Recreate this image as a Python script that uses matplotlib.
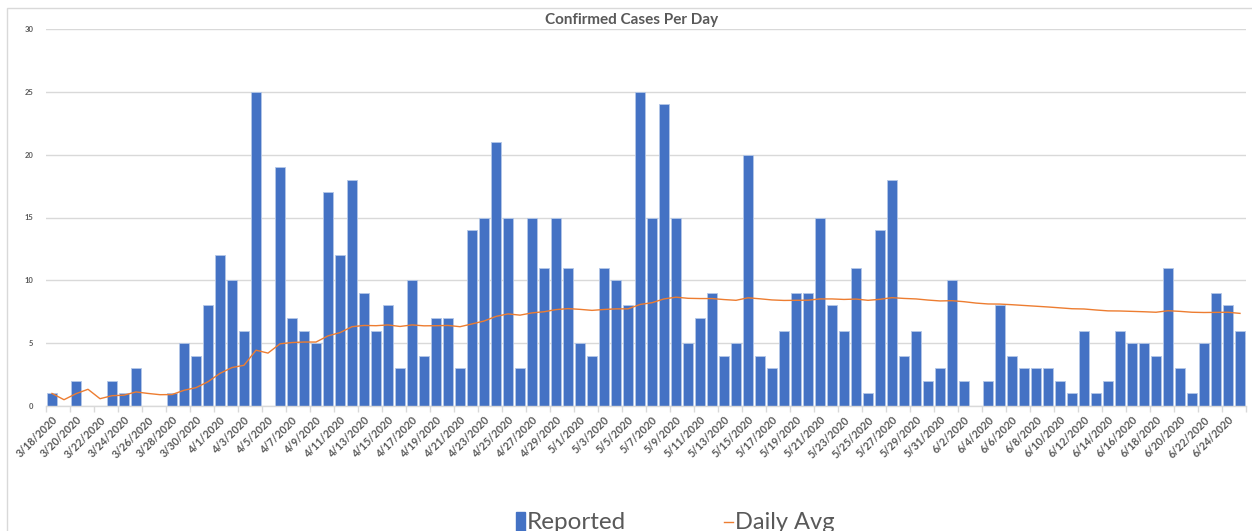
import matplotlib
matplotlib.use('Agg')
import matplotlib.pyplot as plt
from matplotlib.patches import Rectangle
from matplotlib.lines import Line2D
import pandas as pd

# data
start_date = '2020-03-18'
n_days = 100

reported = [1, 0, 2, 0, 0, 2, 1, 3, 0, 0, 1, 5, 4, 8,
            12, 10, 6, 25, 0, 19, 7, 6, 5, 17, 12, 18, 9, 6, 8, 3,
            10, 4, 7, 7, 3, 14, 15, 21, 15, 3, 15, 11, 15, 11,
            5, 4, 11, 10, 8, 25, 15, 24, 15, 5, 7, 9, 4, 5, 20, 4,
            3, 6, 9, 9, 15, 8, 6, 11, 1, 14, 18, 4, 6, 2, 3,
            10, 2, 0, 2, 8, 4, 3, 3, 3, 2, 1, 6, 1, 2, 6, 5, 5, 4,
            11, 3, 1, 5, 9, 8, 6]

daily_avg = [1.00, 0.50, 0.98, 1.33, 0.58, 0.82, 0.86, 1.12, 1.00, 0.90,
             0.91, 1.25, 1.46, 1.93, 2.60, 3.06, 3.24, 4.44, 4.21, 4.95,
             5.05, 5.09, 5.09, 5.58, 5.84, 6.31, 6.41, 6.39, 6.45, 6.33,
             6.45, 6.38, 6.39, 6.41, 6.31, 6.53, 6.76, 7.13, 7.33, 7.23,
             7.41, 7.50, 7.67, 7.75, 7.69, 7.61, 7.68, 7.73, 7.73, 8.08,
             8.22, 8.52, 8.66, 8.57, 8.55, 8.55, 8.47, 8.41, 8.61, 8.53,
             8.44, 8.40, 8.41, 8.42, 8.52, 8.52, 8.48, 8.51, 8.41, 8.49,
             8.62, 8.56, 8.52, 8.43, 8.36, 8.38, 8.30, 8.19, 8.12, 8.11,
             8.06, 8.00, 7.94, 7.88, 7.81, 7.74, 7.72, 7.64, 7.57, 7.56,
             7.53, 7.50, 7.46, 7.58, 7.53, 7.46, 7.44, 7.45, 7.46, 7.37]

dates = pd.date_range(start_date, periods=n_days)
labels = [f'{d.month}/{d.day}/{d.year}' for d in dates]

plt.rcParams['font.family'] = ['Lato', 'DejaVu Sans']
grey = '#595959'

fig = plt.figure(figsize=(12.52, 5.31), dpi=100)
ax = fig.add_axes([46 / 1252, 1 - 406 / 531, 1200 / 1252, 377 / 531])

x = list(range(n_days))
ax.bar(x, reported, width=0.78, color='#4472C4', edgecolor='#b4c7e7',
       linewidth=0.6, zorder=2)
ax.plot(x, daily_avg, color='#ED7D31', linewidth=1.0, zorder=3)

ax.set_xlim(-0.5, n_days - 0.5)
ax.set_ylim(0, 30)
ax.set_yticks(range(0, 31, 5))
ax.grid(axis='y', color='#d9d9d9', linewidth=1.0, zorder=0)

ax.set_xticks(x[::2])
ax.set_xticklabels(labels[::2], rotation=45, ha='right', rotation_mode='anchor',
                   fontsize=7.7, fontweight='bold', color=grey)
ax.set_xticks([i - 0.5 for i in range(0, n_days + 1, 2)], minor=True)
ax.tick_params(axis='x', which='major', length=0, pad=6)
ax.tick_params(axis='x', which='minor', length=4, color='#d9d9d9', width=1)
ax.tick_params(axis='y', length=0, pad=9, labelsize=5.5, labelcolor=grey)
for lbl in ax.get_yticklabels():
    lbl.set_fontweight('bold')

for side in ['top', 'right', 'left']:
    ax.spines[side].set_visible(False)
ax.spines['bottom'].set_color('#d9d9d9')
ax.spines['bottom'].set_linewidth(1.0)

# chart frame (top and left edges visible)
fig.patches.append(Rectangle((7 / 1252, -0.1), 1.2, 1 - 8 / 531 + 0.1,
                             transform=fig.transFigure, fill=False,
                             edgecolor='#d9d9d9', linewidth=1.0))

fig.text(632 / 1252, 1 - 20 / 531, 'Confirmed Cases Per Day', ha='center',
         va='center', fontsize=11, fontweight='bold', color=grey)

# legend along the bottom edge
fig.patches.append(Rectangle((516 / 1252, 0), 9 / 1252, 19 / 531,
                             transform=fig.transFigure, color='#4472C4'))
fig.text(527 / 1252, 2 / 531, 'Reported', ha='left', va='baseline',
         fontsize=17.5, color=grey)
fig.lines.append(Line2D([724 / 1252, 733 / 1252], [1 - 522 / 531] * 2,
                        transform=fig.transFigure, color='#ED7D31', linewidth=1.0))
fig.text(735 / 1252, 2 / 531, 'Daily Avg', ha='left', va='baseline',
         fontsize=17, color=grey)

plt.savefig('out.png', dpi=100)
